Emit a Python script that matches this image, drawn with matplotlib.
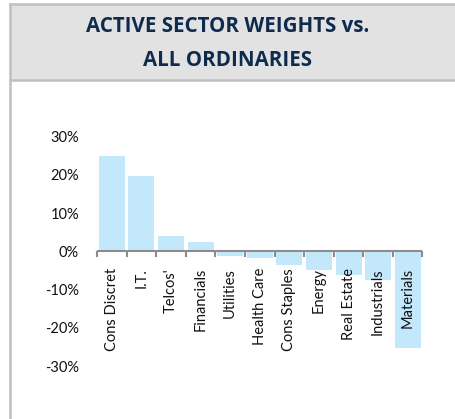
import matplotlib
matplotlib.use("Agg")
import matplotlib.pyplot as plt
from matplotlib.patches import Rectangle
from matplotlib.lines import Line2D
import numpy as np

# ---- data ----
sectors = ["Cons Discret", "I.T.", "Telcos'", "Financials", "Utilities",
           "Health Care", "Cons Staples", "Energy", "Real Estate",
           "Industrials", "Materials"]
weights = [25.0, 19.6, 3.9, 2.5, -1.3, -1.7, -3.7, -5.0, -6.3, -7.5, -25.3]
yticks = [-30, -20, -10, 0, 10, 20, 30]
ytick_labels = ["-30%", "-20%", "-10%", "0%", "10%", "20%", "30%"]
title_lines = ["ACTIVE SECTOR WEIGHTS vs.", "ALL ORDINARIES"]

W, H = 456, 419
fig = plt.figure(figsize=(W / 100, H / 100), dpi=100)
fig.patch.set_facecolor("white")

border = "#c0c0c0"
# title panel
fig.patches.append(Rectangle((10 / W, 1 - 80 / H), 1 - 10 / W, 76 / H,
                             transform=fig.transFigure, facecolor="#e2e2e2",
                             edgecolor="none", zorder=0))
fig.lines.append(Line2D([10 / W, 1], [1 - 4 / H] * 2, transform=fig.transFigure,
                        color=border, lw=1.8))
fig.lines.append(Line2D([10 / W, 1], [1 - 80 / H] * 2, transform=fig.transFigure,
                        color=border, lw=1.8))
fig.lines.append(Line2D([10 / W] * 2, [0, 1 - 4 / H], transform=fig.transFigure,
                        color=border, lw=1.8))

for yy, line in zip([27, 60], title_lines):
    fig.text(228 / W, 1 - yy / H, line, ha="center", va="center",
             fontsize=14.8, fontweight="bold", color="#0e2b4e", family="Open Sans")

# ---- chart ----
ax = fig.add_axes([97 / W, (H - 366) / H, (422.5 - 97) / W, (366 - 136.7) / H])
x = np.arange(len(sectors))
ax.bar(x, weights, width=0.88, color="#c4e8fb", zorder=1)

ax.set_xlim(-0.5, len(sectors) - 0.5)
ax.set_ylim(-30, 30)
for s in ["top", "right", "left", "bottom"]:
    ax.spines[s].set_visible(False)
ax.axhline(0, color="#8c8c8c", lw=1.5, zorder=2)

ax.set_yticks(yticks)
ax.set_yticklabels(ytick_labels, family="Lato", fontsize=10.5, color="#111111")
ax.tick_params(axis="y", length=0, pad=13)

ax.set_xticks([])
# category labels just below the zero line
for xi, name in zip(x, sectors):
    ax.annotate(name, (xi, 0), xytext=(0, -12), textcoords="offset points",
                rotation=90, ha="center", va="top", family="Lato",
                fontsize=10.5, color="#111111", zorder=3)
# small tick marks at category boundaries
for b in np.arange(len(sectors) + 1) - 0.5:
    ax.plot([b, b], [0, -1.5], color="#8c8c8c", lw=1.5, zorder=2,
            solid_capstyle="butt", clip_on=False)

fig.savefig("out.png", dpi=100)
